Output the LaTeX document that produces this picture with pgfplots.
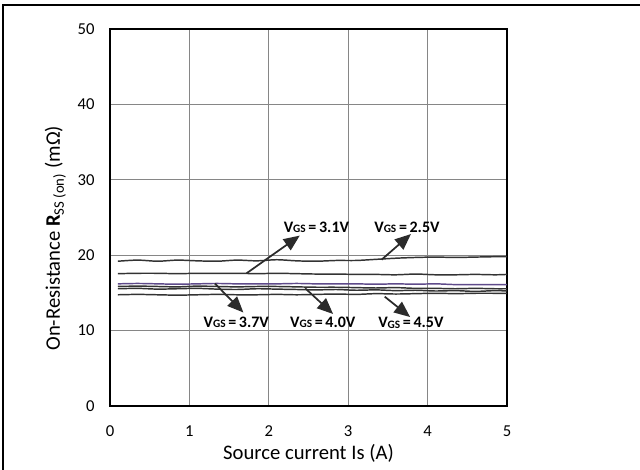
\documentclass[border=0pt]{standalone}
\usepackage{pgfplots}
\pgfplotsset{compat=1.18}
\usepackage{fontspec}
\setmainfont{Carlito}
\usetikzlibrary{arrows.meta}
\definecolor{gridgray}{HTML}{868686}
\definecolor{purp}{HTML}{5F4B8B}
\definecolor{arr}{HTML}{2B2B2B}
\newcommand{\vgs}[1]{\textbf{V\raisebox{-0.1ex}{\fontsize{8.5}{9}\selectfont GS}\,=\,#1}}
\begin{document}
\begin{tikzpicture}
\path[use as bounding box] (0pt,0pt) rectangle (480pt,352.5pt);
\draw[line width=1.3pt] (2.25pt,0pt) -- (2.25pt,348.75pt) -- (480pt,348.75pt);
\begin{axis}[
  at={(82.5pt,48pt)}, anchor=south west,
  scale only axis, width=297.75pt, height=282.75pt,
  xmin=0, xmax=5, ymin=0, ymax=50,
  xtick={0,1,2,3,4,5}, ytick={0,10,20,30,40,50},
  major tick length=0pt,
  grid=major, grid style={gridgray, line width=0.6pt},
  axis line style={black, line width=0.9pt},
  tick label style={font=\fontsize{12.5}{14}\selectfont},
  /pgf/number format/assume math mode=true,
  xticklabel style={yshift=-11pt},
  yticklabel style={xshift=-8pt},
  xlabel={\fontsize{15.5}{17}\selectfont Source current Is (A)},
  ylabel={\fontsize{15.5}{17}\selectfont On-Resistance \textbf{R}\textsubscript{\fontsize{11}{12}\selectfont SS (on)} (mΩ)},
  xlabel style={yshift=0.5pt},
  ylabel style={at={(ticklabel cs:0.445)}, yshift=2pt},
  clip=false,
  every axis plot/.append style={line width=1.1pt, smooth, no marks},
]
% VGS = 2.5V
\addplot[color=black!80] coordinates {(0.1,19.2)(0.35,19.35)(0.6,19.2)(0.85,19.35)(1.1,19.25)(1.35,19.2)(1.6,19.35)(1.85,19.25)(2.1,19.4)(2.35,19.25)(2.6,19.2)(2.85,19.3)(3.1,19.3)(3.35,19.45)(3.6,19.6)(3.85,19.7)(4.1,19.75)(4.35,19.7)(4.6,19.75)(4.85,19.8)(5.0,19.8)};
% VGS = 3.1V
\addplot[color=black!80] coordinates {(0.1,17.55)(0.35,17.6)(0.6,17.6)(0.85,17.55)(1.1,17.6)(1.35,17.6)(1.6,17.6)(1.85,17.55)(2.1,17.6)(2.35,17.55)(2.6,17.5)(2.85,17.5)(3.1,17.45)(3.35,17.45)(3.6,17.4)(3.85,17.5)(4.1,17.4)(4.35,17.4)(4.6,17.45)(4.85,17.4)(5.0,17.45)};
% VGS = 3.7V (purple)
\addplot[color=purp] coordinates {(0.1,16.2)(0.35,16.25)(0.6,16.2)(0.85,16.15)(1.1,16.2)(1.35,16.25)(1.6,16.2)(1.85,16.2)(2.1,16.2)(2.35,16.25)(2.6,16.2)(2.85,16.2)(3.1,16.2)(3.35,16.15)(3.6,16.2)(3.85,16.15)(4.1,16.2)(4.35,16.1)(4.6,16.1)(4.85,16.1)(5.0,16.1)};
% VGS = 4.0V
\addplot[color=black!80] coordinates {(0.1,15.85)(0.35,15.9)(0.6,15.85)(0.85,15.8)(1.1,15.9)(1.35,15.85)(1.6,15.8)(1.85,15.85)(2.1,15.85)(2.35,15.8)(2.6,15.75)(2.85,15.75)(3.1,15.7)(3.35,15.65)(3.6,15.7)(3.85,15.6)(4.1,15.6)(4.35,15.55)(4.6,15.6)(4.85,15.55)(5.0,15.55)};
% extra
\addplot[color=black!80] coordinates {(0.1,15.55)(0.35,15.6)(0.6,15.5)(0.85,15.55)(1.1,15.6)(1.35,15.5)(1.6,15.45)(1.85,15.55)(2.1,15.5)(2.35,15.45)(2.6,15.4)(2.85,15.45)(3.1,15.35)(3.35,15.4)(3.6,15.3)(3.85,15.35)(4.1,15.25)(4.35,15.3)(4.6,15.2)(4.85,15.3)(5.0,15.25)};
% VGS = 4.5V
\addplot[color=black!80] coordinates {(0.1,14.75)(0.35,14.8)(0.6,14.75)(0.85,14.7)(1.1,14.75)(1.35,14.8)(1.6,14.75)(1.85,14.75)(2.1,14.8)(2.35,14.75)(2.6,14.8)(2.85,14.85)(3.1,14.8)(3.35,14.9)(3.6,14.85)(3.85,14.9)(4.1,14.95)(4.35,14.9)(4.6,14.95)(4.85,14.95)(5.0,14.95)};
% arrows and labels
\draw[arr, line width=1.3pt, -{Triangle[length=12pt,width=10pt]}] (axis cs:1.72,17.6) -- (axis cs:2.39,22.6);
\draw[arr, line width=1.3pt, -{Triangle[length=12pt,width=10pt]}] (axis cs:3.42,19.4) -- (axis cs:3.79,22.8);
\draw[arr, line width=1.3pt, -{Triangle[length=12pt,width=10pt]}] (axis cs:1.32,16.25) -- (axis cs:1.68,12.4);
\draw[arr, line width=1.3pt, -{Triangle[length=12pt,width=10pt]}] (axis cs:2.46,15.6) -- (axis cs:2.81,12.2);
\draw[arr, line width=1.3pt, -{Triangle[length=12pt,width=10pt]}] (axis cs:3.46,14.5) -- (axis cs:3.78,11.8);
\node[font=\fontsize{12}{14}\selectfont] at (axis cs:2.60,23.7) {\vgs{3.1V}};
\node[font=\fontsize{12}{14}\selectfont] at (axis cs:3.74,23.7) {\vgs{2.5V}};
\node[font=\fontsize{12}{14}\selectfont] at (axis cs:1.59,11.1) {\vgs{3.7V}};
\node[font=\fontsize{12}{14}\selectfont] at (axis cs:2.68,11.1) {\vgs{4.0V}};
\node[font=\fontsize{12}{14}\selectfont] at (axis cs:3.79,11.0) {\vgs{4.5V}};
\end{axis}
\end{tikzpicture}
\end{document}
